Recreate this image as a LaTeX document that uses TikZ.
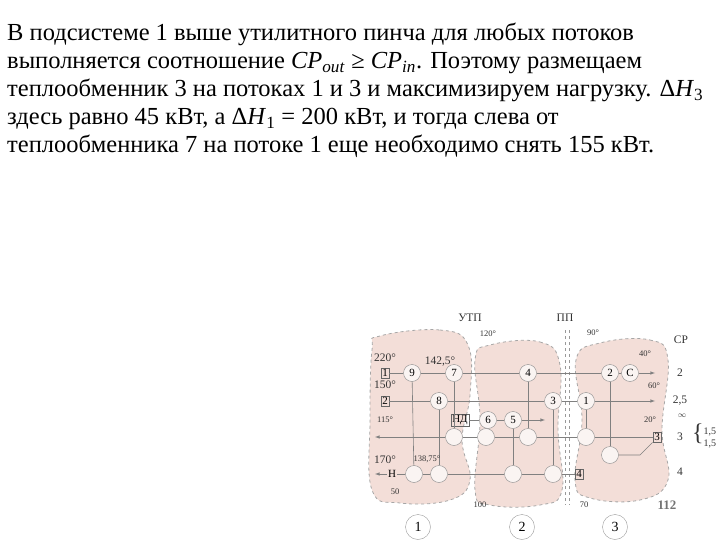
\documentclass[tikz,border=0pt]{standalone}
\usepackage{fontspec}
\setmainfont{Liberation Serif}
\begin{document}
\begin{tikzpicture}[x=1pt,y=-1pt,
  txt/.style={anchor=base west,inner sep=0,font=\fontsize{24.5}{28}\selectfont},
  lbl/.style={inner sep=0,font=\fontsize{11.5}{13}\selectfont,text=black!80},
  sm/.style={inner sep=0,font=\fontsize{8.5}{10}\selectfont,text=black!80},
  blob/.style={fill={rgb,255:red,243;green,222;blue,216},draw=black!35,dashed,thick},
  hx/.style={circle,draw=black!45,fill={rgb,255:red,250;green,244;blue,242},minimum size=17pt,inner sep=0,font=\fontsize{11}{12}\selectfont},
  bx/.style={draw=black!60,inner sep=1.5pt,font=\fontsize{11}{12}\selectfont},
  ln/.style={draw=black!50,line width=0.6pt},
  arr/.style={ln,-latex},
  cnum/.style={circle,draw=black!40,minimum size=25pt,inner sep=0,font=\fontsize{14}{15}\selectfont}]
\useasboundingbox (0,0) rectangle (720,540);
\node[txt] (t1) at (7,41) {В подсистеме 1 выше утилитного пинча для любых потоков};
\node[txt] (t2) at (7,69) {выполняется соотношение \textit{CP}\textsubscript{\textit{out}} ≥ \textit{CP}\textsubscript{\textit{in}}. Поэтому размещаем};
\node[txt] (t3) at (7,97) {теплообменник 3 на потоках 1 и 3 и максимизируем нагрузку. Δ\textit{H}\textsubscript{3}};
\node[txt] (t4) at (7,125) {здесь равно 45 кВт, а Δ\textit{H}\textsubscript{1} = 200 кВт, и тогда слева от};
\node[txt] (t5) at (7,153) {теплообменника 7 на потоке 1 еще необходимо снять 155 кВт.};
% blobs
\path[blob] plot[smooth cycle,tension=0.7] coordinates {(380,336) (440,330) (468,345) (470,395) (462,440) (470,480) (450,500) (400,503) (372,490) (370,420) (372,350)};
\path[blob] plot[smooth cycle,tension=0.7] coordinates {(490,345) (540,342) (560,365) (558,430) (562,490) (540,505) (490,505) (475,490) (480,420) (475,360)};
\path[blob] plot[smooth cycle,tension=0.7] coordinates {(600,343) (650,340) (668,360) (662,430) (668,480) (640,500) (590,498) (575,480) (582,420) (576,360)};
\draw[draw=black!40,dashed] (565,330) -- (565,505);
\draw[draw=black!40,dashed] (569,330) -- (569,505);
% nodes
\node[bx] (b1) at (385,373) {1};
\node[bx] (b2) at (385,401) {2};
\node[bx] (b3) at (657,437) {3};
\node[bx] (b4) at (579,474) {4};
\node[bx] (nd) at (460,420) {НД};
\node[inner sep=1pt,font=\fontsize{11}{12}\selectfont] (H) at (392,474) {Н};
\node[hx] (n9) at (412,373) {9};
\node[hx] (n7) at (454,373) {7};
\node[hx] (n4) at (528,373) {4};
\node[hx] (n2) at (610,373) {2};
\node[hx] (nC) at (630,373) {C};
\node[hx] (n8) at (439,401) {8};
\node[hx] (n3) at (553,401) {3};
\node[hx] (n1) at (586,401) {1};
\node[hx] (n6) at (488,420) {6};
\node[hx] (n5) at (513,420) {5};
\node[hx] (c7) at (454,437) {};
\node[hx] (c6) at (486,437) {};
\node[hx] (c4) at (528,437) {};
\node[hx] (c1) at (586,437) {};
\node[hx] (c2) at (610,455) {};
\node[hx] (c9) at (414,474) {};
\node[hx] (c8) at (439,474) {};
\node[hx] (c5) at (513,474) {};
\node[hx] (c3) at (553,474) {};
\coordinate (e1) at (655,373);
\coordinate (e2) at (655,401);
\coordinate (e3) at (375,437);
\coordinate (e4) at (375,474);
\coordinate (end) at (545,420);
% streams
\draw[ln] (b1)--(n9)--(n7)--(n4)--(n2)--(nC); \draw[arr] (nC)--(e1);
\draw[ln] (b2)--(n8)--(n3)--(n1); \draw[arr] (n1)--(e2);
\draw[ln] (nd)--(n6)--(n5); \draw[arr] (n5)--(end);
\draw[ln] (b3)--(c1)--(c4)--(c6)--(c7); \draw[arr] (c7)--(e3);
\draw[ln] (b3.south west) -- (640,455) -- (c2);
\draw[ln] (b4)--(c3)--(c5)--(c8)--(c9)--(H); \draw[arr] (H)--(e4);
\draw[ln] (n9)--(c9); \draw[ln] (n8)--(c8); \draw[ln] (n7)--(c7); \draw[ln] (n4)--(c4);
\draw[ln] (n5)--(c5); \draw[ln] (n3)--(c3); \draw[ln] (n1)--(c1); \draw[ln] (n2)--(c2);
% labels
\node[lbl] (lU) at (470,318) {УТП};
\node[lbl] (lP) at (565,318) {ПП};
\node[sm] (l120) at (488,334) {120°};
\node[sm] (l90) at (593,333) {90°};
\node[lbl] (lCP) at (681,340) {CP};
\node[lbl] (l220) at (385,358) {220°};
\node[lbl] (l142) at (440,362) {142,5°};
\node[lbl] (l150) at (385,385) {150°};
\node[sm] (l115) at (385,420) {115°};
\node[lbl] (l170) at (385,460) {170°};
\node[sm] (l138) at (427,459) {138,75°};
\node[sm] (l50) at (395,492) {50};
\node[sm] (l100) at (480,505) {100};
\node[sm] (l70) at (584,505) {70};
\node[sm] (l40) at (645,354) {40°};
\node[sm] (l60) at (654,386) {60°};
\node[sm] (l20) at (650,420) {20°};
\node[sm] (linf) at (682,416) {$\infty$};
\node[lbl] (r2) at (680,373) {2};
\node[lbl] (r25) at (680,401) {2,5};
\node[lbl] (r3) at (680,437) {3};
\node[lbl] (r4) at (680,472) {4};
\node[lbl,anchor=west] (br) at (692,437) {\fontsize{24}{24}\selectfont\{\fontsize{10}{12}\selectfont\begin{tabular}{@{}l@{}}1,5\\1,5\end{tabular}};
\node[inner sep=0,font=\bfseries\fontsize{13}{14}\selectfont,text=black!55] (p112) at (667,505) {112};
\node[cnum] (k1) at (418,527) {1};
\node[cnum] (k2) at (522,527) {2};
\node[cnum] (k3) at (615,527) {3};
\end{tikzpicture}
\end{document}
